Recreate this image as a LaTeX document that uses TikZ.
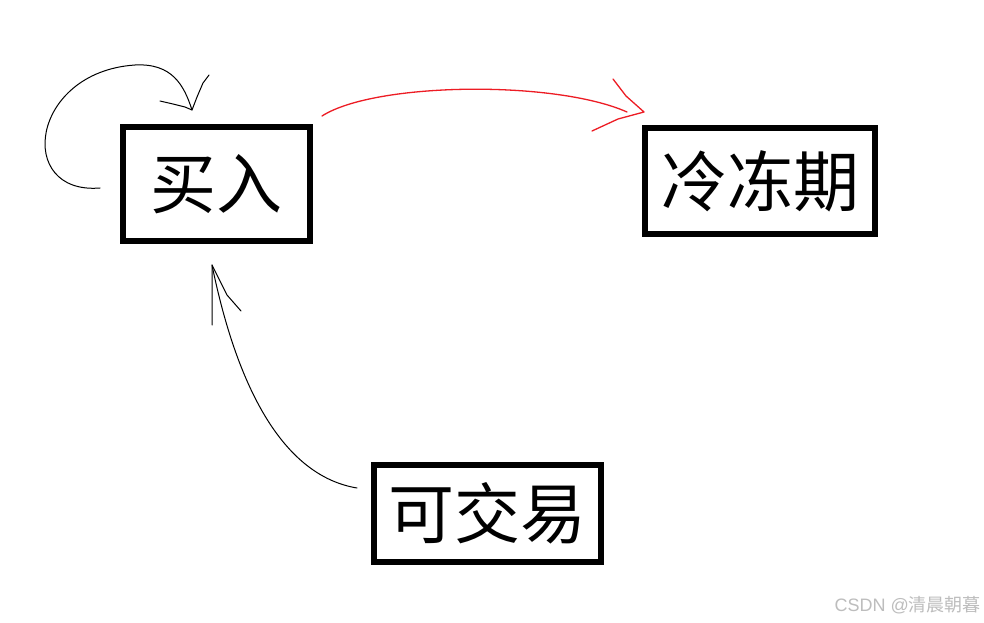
\documentclass[tikz,border=0pt]{standalone}
\usepackage{fontspec}
\usetikzlibrary{calc}
\newfontfamily\cjk{Noto Sans CJK SC}
\newfontfamily\wmfont{Liberation Sans}
\definecolor{paintred}{HTML}{ED1C24}
\begin{document}
\begin{tikzpicture}[x=1pt,y=-1pt,
  statebox/.style={draw=black,line width=6pt,inner sep=0pt,font=\cjk\fontsize{66}{66}\selectfont},
  hand/.style={line width=1pt,line cap=round,line join=round},
  redhand/.style={hand,draw=paintred,line width=1.3pt}]
\useasboundingbox (0,0) rectangle (984,623);
\fill[white] (0,0) rectangle (984,623);
\node[statebox,minimum width=187pt,minimum height=114pt] (buy) at (216.5,184) {买入};
\node[statebox,minimum width=230pt,minimum height=106pt] (freeze) at (760,181) {冷冻期};
\node[statebox,minimum width=227pt,minimum height=97pt] (trade) at (487.5,513.5) {可交易};
\node[font=\fontsize{18}{18}\selectfont,text=black!26,anchor=east,inner sep=0pt] (mark) at (981,605) {\wmfont CSDN @\cjk 清晨朝暮};
% self loop on buy
\coordinate (loopS) at ($(buy.west)+(-20,4)$);
\coordinate (loopT) at (192,110);
\draw[hand] (loopS) .. controls (15,195) and (30,72) .. (135,65) .. controls (172,63) and (184,85) .. (loopT);
\draw[hand] (160,101) -- (173,104) -- (185,107) -- (loopT) -- (197,97) -- (203,83) -- (209,75);
% red arrow buy -> freeze
\coordinate (redS) at (322,116);
\coordinate (redE) at (627,112);
\coordinate (redT) at (644,112);
\draw[redhand] (redS) .. controls (375,82) and (555,80) .. (redE);
\draw[redhand] (613,79) -- (626,96) -- (redT) -- (618,119) -- (592,131);
% trade -> buy
\coordinate (upS) at (357,488);
\coordinate (upT) at (212,265);
\draw[hand] (upS) .. controls (285,476) and (238,392) .. (upT);
\draw[hand] (212,325) -- (upT) -- (227,295) -- (241,311);
\end{tikzpicture}
\end{document}
